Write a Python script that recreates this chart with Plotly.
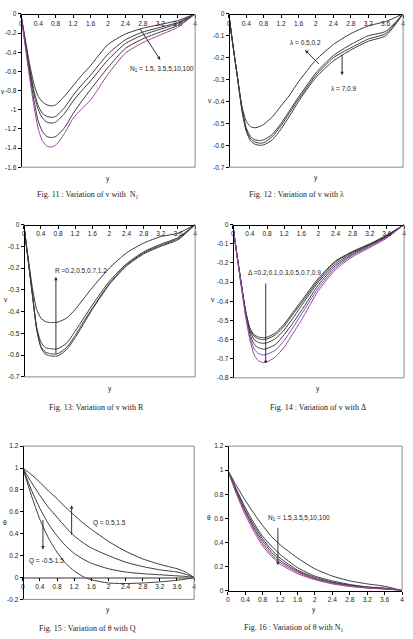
import plotly.graph_objects as go

W, H = 413, 639

# ---------------- data ----------------
X_V = [0, 0.1, 0.2, 0.3, 0.4, 0.5, 0.6, 0.7, 0.8, 1.0, 1.2, 1.4, 1.6, 2.0, 2.4, 2.8, 3.2, 3.6, 4.0]

# Fig 11 : v vs y for N1
f11_n1_1p5 = [0, -0.26, -0.52, -0.73, -0.86, -0.92, -0.95, -0.96, -0.95, -0.86, -0.75, -0.64, -0.54, -0.32, -0.21, -0.15, -0.11, -0.07, 0]
f11_n1_3p5 = [0, -0.28, -0.56, -0.80, -0.96, -1.04, -1.07, -1.08, -1.07, -0.98, -0.85, -0.74, -0.64, -0.42, -0.27, -0.19, -0.14, -0.09, 0]
f11_n1_5 = [0, -0.29, -0.58, -0.83, -1.00, -1.09, -1.13, -1.14, -1.13, -1.04, -0.91, -0.80, -0.70, -0.48, -0.31, -0.22, -0.16, -0.10, 0]
f11_n1_10 = [0, -0.31, -0.62, -0.90, -1.12, -1.23, -1.28, -1.29, -1.28, -1.19, -1.04, -0.91, -0.79, -0.56, -0.36, -0.26, -0.19, -0.12, 0]
f11_n1_100 = [0, -0.33, -0.66, -0.96, -1.20, -1.33, -1.38, -1.39, -1.37, -1.25, -1.09, -0.99, -0.90, -0.63, -0.41, -0.30, -0.22, -0.14, 0]

# Fig 12 : v vs y for lambda
f12_a = [0, -0.15, -0.29, -0.42, -0.49, -0.515, -0.52, -0.515, -0.505, -0.47, -0.42, -0.37, -0.31, -0.21, -0.14, -0.09, -0.055, -0.035, 0]
f12_b = [0, -0.15, -0.29, -0.43, -0.52, -0.56, -0.575, -0.578, -0.575, -0.55, -0.50, -0.44, -0.38, -0.27, -0.19, -0.14, -0.10, -0.08, 0]
f12_c = [0, -0.15, -0.29, -0.43, -0.53, -0.57, -0.585, -0.59, -0.588, -0.56, -0.51, -0.45, -0.39, -0.28, -0.20, -0.155, -0.115, -0.09, 0]
f12_d = [0, -0.15, -0.29, -0.44, -0.535, -0.58, -0.595, -0.60, -0.598, -0.575, -0.525, -0.465, -0.40, -0.29, -0.215, -0.165, -0.125, -0.10, 0]

# Fig 13 : v vs y for R
f13_a = [0, -0.15, -0.29, -0.39, -0.43, -0.445, -0.45, -0.45, -0.448, -0.43, -0.39, -0.34, -0.29, -0.20, -0.13, -0.085, -0.055, -0.04, 0]
f13_b = [0, -0.16, -0.32, -0.47, -0.54, -0.565, -0.57, -0.572, -0.57, -0.545, -0.49, -0.43, -0.37, -0.26, -0.18, -0.125, -0.09, -0.06, 0]
f13_c = [0, -0.16, -0.32, -0.48, -0.56, -0.585, -0.593, -0.595, -0.593, -0.565, -0.51, -0.445, -0.385, -0.27, -0.185, -0.13, -0.095, -0.065, 0]
f13_d = [0, -0.16, -0.32, -0.48, -0.565, -0.595, -0.603, -0.605, -0.603, -0.575, -0.52, -0.455, -0.39, -0.275, -0.19, -0.135, -0.10, -0.07, 0]

# Fig 14 : v vs y for Delta
f14_1 = [0, -0.16, -0.31, -0.45, -0.54, -0.575, -0.587, -0.59, -0.588, -0.565, -0.52, -0.46, -0.40, -0.28, -0.19, -0.14, -0.10, -0.055, 0]
f14_2 = [0, -0.16, -0.31, -0.45, -0.545, -0.583, -0.596, -0.60, -0.597, -0.575, -0.53, -0.47, -0.41, -0.29, -0.195, -0.143, -0.103, -0.057, 0]
f14_3 = [0, -0.16, -0.31, -0.455, -0.555, -0.60, -0.615, -0.62, -0.617, -0.595, -0.55, -0.49, -0.425, -0.30, -0.205, -0.148, -0.106, -0.06, 0]
f14_4 = [0, -0.16, -0.315, -0.46, -0.57, -0.625, -0.643, -0.65, -0.647, -0.625, -0.575, -0.515, -0.45, -0.315, -0.215, -0.155, -0.11, -0.063, 0]
f14_5 = [0, -0.165, -0.32, -0.47, -0.585, -0.65, -0.673, -0.68, -0.677, -0.655, -0.605, -0.54, -0.47, -0.33, -0.225, -0.16, -0.115, -0.066, 0]
f14_6 = [0, -0.165, -0.325, -0.48, -0.60, -0.68, -0.71, -0.72, -0.717, -0.69, -0.64, -0.57, -0.50, -0.345, -0.235, -0.168, -0.12, -0.07, 0]

# Fig 15 : theta vs y for Q
X_T15 = [0, 0.2, 0.4, 0.6, 0.8, 1.0, 1.2, 1.4, 1.6, 2.0, 2.4, 2.8, 3.2, 3.6, 3.8, 4.0]
f15_q1p5 = [1, 0.94, 0.87, 0.79, 0.72, 0.64, 0.57, 0.50, 0.44, 0.33, 0.24, 0.17, 0.12, 0.08, 0.05, 0]
f15_q0p5 = [1, 0.87, 0.75, 0.64, 0.55, 0.46, 0.38, 0.32, 0.27, 0.20, 0.14, 0.10, 0.07, 0.05, 0.03, 0]
f15_qm0p5 = [1, 0.80, 0.63, 0.49, 0.38, 0.29, 0.22, 0.17, 0.13, 0.08, 0.05, 0.035, 0.025, 0.015, 0.01, 0]
f15_qm1p5 = [1, 0.75, 0.53, 0.36, 0.23, 0.13, 0.06, 0.01, -0.02, -0.05, -0.055, -0.05, -0.04, -0.025, -0.015, 0]

# Fig 16 : theta vs y for N1
X_T16 = [0, 0.2, 0.4, 0.6, 0.8, 1.0, 1.2, 1.6, 2.0, 2.4, 2.8, 3.2, 3.6, 4.0]
f16_1 = [1, 0.87, 0.75, 0.64, 0.54, 0.45, 0.38, 0.27, 0.18, 0.12, 0.08, 0.055, 0.035, 0]
f16_2 = [1, 0.84, 0.69, 0.56, 0.45, 0.37, 0.30, 0.19, 0.12, 0.08, 0.05, 0.03, 0.02, 0]
f16_3 = [1, 0.83, 0.67, 0.54, 0.43, 0.34, 0.27, 0.17, 0.11, 0.07, 0.045, 0.028, 0.017, 0]
f16_4 = [1, 0.82, 0.66, 0.52, 0.41, 0.32, 0.25, 0.16, 0.10, 0.065, 0.04, 0.025, 0.015, 0]
f16_5 = [1, 0.81, 0.65, 0.51, 0.39, 0.30, 0.235, 0.15, 0.095, 0.06, 0.037, 0.022, 0.013, 0]
f16_6 = [1, 0.80, 0.63, 0.49, 0.37, 0.285, 0.22, 0.14, 0.09, 0.055, 0.034, 0.02, 0.012, 0]

X_TICKS = [0, 0.4, 0.8, 1.2, 1.6, 2, 2.4, 2.8, 3.2, 3.6, 4]
X_TICKTEXT = ["0", "0.4", "0.8", "1.2", "1.6", "2", "2.4", "2.8", "3.2", "3.6", "4"]

# ---------------- styling ----------------
DARK = "#3a3a3a"
PURP = "#a0409a"
VIOL = "#7050b0"
TICKF = dict(family="Liberation Sans, Arial", size=6.6, color="#222")
LBLF = dict(family="Liberation Sans, Arial", size=6.5, color="#222")
CAPF = dict(family="Liberation Serif, Times New Roman", size=8, color="#222")
EPS = 1e-6


def yticks(lo, hi, step):
    n = int(round((hi - lo) / step))
    vals = [round(lo + i * step, 6) for i in range(n + 1)]
    return vals, ["%g" % v for v in vals]


panels = [
    dict(px=(19, 195, 10, 165), yr=(-1.6, 0), st=0.2, xs="top",
         series=[(X_V, f11_n1_1p5, DARK), (X_V, f11_n1_3p5, DARK), (X_V, f11_n1_5, DARK),
                 (X_V, f11_n1_10, DARK), (X_V, f11_n1_100, PURP)],
         ytitle="v", ytpos=(1.5, 88), xtpos=(107, 177),
         cap="Fig. 11 : Variation of v with  N<sub>1</sub>", cappos=(86, 193)),
    dict(px=(229, 405, 10, 165), yr=(-0.7, 0), st=0.1, xs="top",
         series=[(X_V, f12_a, DARK), (X_V, f12_b, DARK), (X_V, f12_c, DARK), (X_V, f12_d, DARK)],
         ytitle="v", ytpos=(210, 98), xtpos=(317, 176),
         cap="Fig. 12 : Variation of v with λ", cappos=(297, 193)),
    dict(px=(22, 195, 223, 377), yr=(-0.7, 0), st=0.1, xs="top",
         series=[(X_V, f13_a, DARK), (X_V, f13_b, DARK), (X_V, f13_c, DARK), (X_V, f13_d, DARK)],
         ytitle="v", ytpos=(4, 299), xtpos=(109, 389),
         cap="Fig. 13: Variation of v with R", cappos=(95, 408)),
    dict(px=(233, 406, 223, 378), yr=(-0.8, 0), st=0.1, xs="top",
         series=[(X_V, f14_1, DARK), (X_V, f14_2, DARK), (X_V, f14_3, DARK), (X_V, f14_4, DARK),
                 (X_V, f14_5, VIOL), (X_V, f14_6, PURP)],
         ytitle="v", ytpos=(213, 299), xtpos=(319, 389),
         cap="Fig. 14 : Variation of v with Δ", cappos=(319, 408)),
    dict(px=(21, 194, 447, 602), yr=(-0.2, 1.2), st=0.2, xs="zero",
         series=[(X_T15, f15_q1p5, DARK), (X_T15, f15_q0p5, DARK), (X_T15, f15_qm0p5, DARK),
                 (X_T15, f15_qm1p5, DARK)],
         ytitle="θ", ytpos=(3, 524), xtpos=(107, 613),
         cap="Fig. 15 : Variation of θ with Q", cappos=(86, 631)),
    dict(px=(228, 404, 447, 593), yr=(0, 1.2), st=0.2, xs="bottom",
         series=[(X_T16, f16_1, DARK), (X_T16, f16_2, DARK), (X_T16, f16_3, DARK),
                 (X_T16, f16_4, DARK), (X_T16, f16_5, PURP), (X_T16, f16_6, PURP)],
         ytitle="θ", ytpos=(209.5, 519), xtpos=(315, 613),
         cap="Fig. 16 : Variation of θ with N<sub>1</sub>", cappos=(295, 631)),
]

fig = go.Figure()
layout = dict(width=W, height=H, margin=dict(l=0, r=0, t=0, b=0),
              paper_bgcolor="white", plot_bgcolor="rgba(0,0,0,0)", showlegend=False)
shapes, annos = [], []


def px2x(p):
    return p / W


def px2y(p):
    return 1 - p / H


def yaxis_dict(dom, lo, hi, vals, txt, xpos):
    return dict(domain=dom, range=[lo - EPS, hi + EPS], anchor="free", position=xpos,
                showline=True, linecolor="#000", linewidth=1, ticks="outside", ticklen=3,
                tickcolor="#000", tickvals=vals, ticktext=txt, tickfont=TICKF, showgrid=False,
                zeroline=False, fixedrange=True, ticklabeloverflow="allow")


def xaxis_dict(dom, pos, **kw):
    d = dict(domain=dom, range=[0 - EPS, 4 + EPS], showline=True, linecolor="#000", linewidth=1,
             tickvals=X_TICKS, ticktext=X_TICKTEXT, tickfont=TICKF, showgrid=False,
             zeroline=False, ticklen=3, tickcolor="#000", fixedrange=True, side="bottom",
             ticks="outside", ticklabeloverflow="allow", anchor="free", position=pos)
    d.update(kw)
    return d


def add_lines(series, xn, yn, clip):
    for xs_, ys_, c in series:
        fig.add_trace(go.Scatter(x=xs_, y=ys_, mode="lines", xaxis=xn, yaxis=yn,
                                 line=dict(color=c, width=1, shape="spline", smoothing=0.6),
                                 hoverinfo="skip", cliponaxis=clip))


for i, p in enumerate(panels, start=1):
    xn = "x" if i == 1 else f"x{i}"
    yn = "y" if i == 1 else f"y{i}"
    xk = "xaxis" if i == 1 else f"xaxis{i}"
    yk = "yaxis" if i == 1 else f"yaxis{i}"
    l, r, t, b = p["px"]
    xd = [px2x(l), px2x(r)]
    yd = [px2y(b), px2y(t)]
    y0, y1 = p["yr"]
    yv, yt = yticks(y0, y1, p["st"])
    if p["xs"] == "zero":
        # upper part (values >= 0) with the x axis on its lower edge, i.e. at value 0
        frac = (0 - y0) / (y1 - y0)
        zp = yd[0] + frac * (yd[1] - yd[0])
        up_v = [v for v in yv if v >= 0]
        lo_v = [v for v in yv if v < 0]
        layout[yk] = yaxis_dict([zp, yd[1]], 0, y1, up_v, ["%g" % v for v in up_v], xd[0])
        layout[xk] = xaxis_dict(xd, zp, linecolor="#999", linewidth=1.5)
        add_lines(p["series"], xn, yn, True)
        # lower part (values < 0)
        layout["yaxis7"] = yaxis_dict([yd[0], zp], y0, 0, lo_v, ["%g" % v for v in lo_v], xd[0])
        layout["xaxis7"] = xaxis_dict(xd, yd[0], visible=False)
        add_lines(p["series"], "x7", "y7", True)
    else:
        layout[yk] = yaxis_dict(yd, y0, y1, yv, yt, xd[0])
        pos = yd[1] if p["xs"] == "top" else yd[0]
        layout[xk] = xaxis_dict(xd, pos)
        add_lines(p["series"], xn, yn, False)
    annos.append(dict(text=p["ytitle"], x=px2x(p["ytpos"][0]), y=px2y(p["ytpos"][1]), xref="paper",
                      yref="paper", showarrow=False, font=TICKF, xanchor="center", yanchor="middle"))
    annos.append(dict(text="y", x=px2x(p["xtpos"][0]), y=px2y(p["xtpos"][1]), xref="paper",
                      yref="paper", showarrow=False, font=TICKF, xanchor="center", yanchor="middle"))
    annos.append(dict(text=p["cap"], x=px2x(p["cappos"][0]), y=px2y(p["cappos"][1]), xref="paper",
                      yref="paper", showarrow=False, font=CAPF, xanchor="center", yanchor="middle"))
    # grey plot-area frame
    frame = dict(color="#8c8c8c", width=1)
    shapes.append(dict(type="line", xref="paper", yref="paper", x0=xd[1], x1=xd[1], y0=yd[0], y1=yd[1],
                       line=frame, layer="above"))
    if p["xs"] != "top":
        shapes.append(dict(type="line", xref="paper", yref="paper", x0=xd[0], x1=xd[1], y0=yd[1],
                           y1=yd[1], line=frame, layer="above"))
    if p["xs"] != "bottom":
        shapes.append(dict(type="line", xref="paper", yref="paper", x0=xd[0], x1=xd[1], y0=yd[0],
                           y1=yd[0], line=frame, layer="above"))


def arrow(i, head, tail, style=2):
    xn = "x" if i == 1 else f"x{i}"
    yn = "y" if i == 1 else f"y{i}"
    annos.append(dict(text="", x=head[0], y=head[1], ax=tail[0], ay=tail[1], xref=xn, yref=yn,
                      axref=xn, ayref=yn, showarrow=True, arrowhead=style, arrowsize=0.7,
                      arrowwidth=1, arrowcolor="#333"))


def label(i, txt, x, y):
    xn = "x" if i == 1 else f"x{i}"
    yn = "y" if i == 1 else f"y{i}"
    annos.append(dict(text=txt, x=x, y=y, xref=xn, yref=yn, showarrow=False, font=LBLF,
                      xanchor="left", yanchor="middle"))


arrow(1, (3.2, -0.48), (2.71, -0.137))
label(1, "N<sub>1</sub> = 1.5, 3.5,5,10,100", 2.45, -0.58)
arrow(2, (1.75, -0.165), (2.1, -0.235))
label(2, "λ = 0.5,0.2", 1.35, -0.13)
arrow(2, (2.6, -0.28), (2.6, -0.18))
label(2, "λ = 7,0.9", 2.3, -0.34)
arrow(3, (0.75, -0.24), (0.75, -0.6))
label(3, "R =0.2,0.5,0.7,1.2", 0.68, -0.21)
arrow(4, (0.77, -0.715), (0.77, -0.3), style=6)
label(4, "Δ =0.2,0.1,0.3,0.5,0.7,0.9", 0.31, -0.25)
arrow(5, (1.14, 0.66), (1.14, 0.375))
label(5, "Q = 0.5,1.5", 1.6, 0.5)
arrow(5, (0.47, 0.255), (0.47, 0.54))
label(5, "Q = -0.5-1.5", 0.1, 0.15)
arrow(6, (1.15, 0.21), (1.15, 0.53))
label(6, "N<sub>1</sub> = 1.5,3.5,5,10,100", 0.88, 0.6)

layout["shapes"] = shapes
layout["annotations"] = annos
fig.update_layout(**layout)
fig.write_html("out.html")
